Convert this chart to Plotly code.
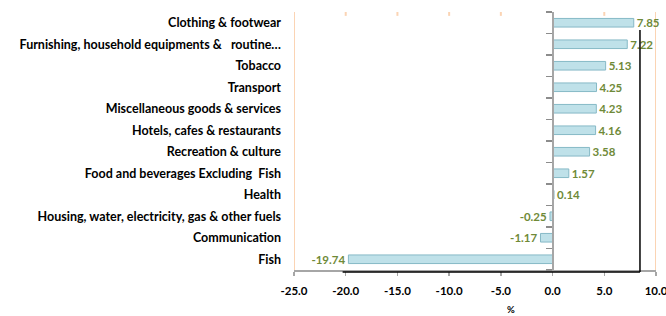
import plotly.graph_objects as go

categories = [
    "Clothing & footwear",
    "Furnishing, household equipments &   routine…",
    "Tobacco",
    "Transport",
    "Miscellaneous goods & services",
    "Hotels, cafes & restaurants",
    "Recreation & culture",
    "Food and beverages Excluding  Fish",
    "Health",
    "Housing, water, electricity, gas & other fuels",
    "Communication",
    "Fish",
]
values = [7.85, 7.22, 5.13, 4.25, 4.23, 4.16, 3.58, 1.57, 0.14, -0.25, -1.17, -19.74]
x_ticks = [-25, -20, -15, -10, -5, 0, 5, 10]
x_tick_labels = ["-25.0", "-20.0", "-15.0", "-10.0", "-5.0", "0.0", "5.0", "10.0"]

FONT = "Lato"
fig = go.Figure()
fig.add_trace(go.Bar(
    x=values, y=categories, orientation="h",
    marker=dict(color="#bfe1e9", line=dict(color="#86b9c6", width=1)),
    text=[f"{v:.2f}" for v in values], textposition="outside", constraintext="none",
    textfont=dict(family=FONT, size=11.5, color="#6f8a38", weight="bold"),
    cliponaxis=False, showlegend=False, hoverinfo="skip",
))
# invisible trace to drive the zero-position category axis (ticks only)
fig.add_trace(go.Bar(
    x=[0] * len(categories), y=categories, orientation="h", yaxis="y2",
    marker=dict(color="rgba(0,0,0,0)"), showlegend=False, hoverinfo="skip",
))

fig.update_layout(
    width=666, height=316,
    margin=dict(l=294, r=10, t=12, b=46, autoexpand=False),
    paper_bgcolor="white", plot_bgcolor="white",
    bargap=0.6, barmode="overlay",
    font=dict(family=FONT, size=11, color="#000000"),
    xaxis=dict(
        range=[-25, 10], tickvals=x_ticks, ticktext=x_tick_labels, automargin=False,
        showgrid=False, zeroline=False, showline=True, linecolor="#a6a6a6", linewidth=2,
        ticks="outside", ticklen=4, tickcolor="#a6a6a6", tickwidth=1.5,
        tickfont=dict(family=FONT, size=11.5, color="#000000", weight="bold"),
        ticklabelstandoff=5, ticklabeloverflow="allow",
        fixedrange=True,
    ),
    yaxis=dict(
        categoryorder="array", categoryarray=categories[::-1], automargin=False,
        showgrid=False, zeroline=False, showline=False, ticks="",
        tickfont=dict(family=FONT, size=12.5, color="#000000", weight="bold"),
        ticklabelstandoff=12, fixedrange=True,
    ),
    yaxis2=dict(
        overlaying="y", matches="y", anchor="free", position=25 / 35, automargin=False,
        showticklabels=False, showgrid=False, zeroline=False,
        showline=True, linecolor="#a6a6a6", linewidth=2,
        ticks="outside", tickson="boundaries", ticklen=6, tickcolor="#8c8c8c", tickwidth=1.5,
        side="left",
    ),
)

# peach frame lines at the axis extremes
for xv in (-25, 10):
    fig.add_shape(type="line", xref="x", yref="paper", x0=xv, x1=xv, y0=0, y1=1,
                  line=dict(color="#fbd4b4", width=2), layer="below")
for xv in (-20, -15, -10, -5, 5):
    fig.add_shape(type="line", xref="x", yref="paper", x0=xv, x1=xv, y0=0.985, y1=1.0,
                  line=dict(color="#fbd4b4", width=2), layer="below")
# thin black inner frame
fig.add_shape(type="line", xref="x", yref="paper", x0=8.45, x1=8.45, y0=-0.008, y1=0.93,
              line=dict(color="#000000", width=1.5))
fig.add_shape(type="line", xref="x", yref="paper", x0=-20.3, x1=8.45, y0=-0.008, y1=-0.008,
              line=dict(color="#000000", width=1.5))

fig.add_annotation(text="%", xref="x", yref="paper", x=-4, y=-0.155, showarrow=False,
                   yanchor="middle", font=dict(family=FONT, size=9.5, color="#000000", weight="bold"))

fig.write_html("out.html", config={"displayModeBar": False, "staticPlot": True},
               post_script="document.body.style.margin='0';")
